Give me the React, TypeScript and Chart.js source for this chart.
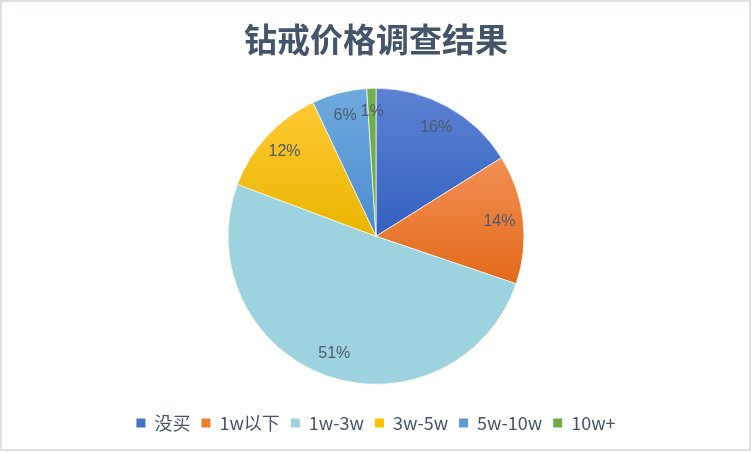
import { useEffect, useRef } from "react";
import { Chart, registerables } from "chart.js";

Chart.register(...registerables);

const title = "钻戒价格调查结果";
const labels = ["没买", "1w以下", "1w-3w", "3w-5w", "5w-10w", "10w+"];
const values = [16.1, 14.1, 50.5, 12.3, 6.0, 1.0];
const pctLabels = ["16%", "14%", "51%", "12%", "6%", "1%"];
// gradient top / bottom colours per slice
const topColors = ["#5d82d3", "#f19053", "#9dd2df", "#ffc933", "#6eaade", "#76b04c"];
const bottomColors = ["#3261bf", "#e3691a", "#9dd2df", "#e9b500", "#4c8ccf", "#6aa843"];
const legendColors = ["#4472c4", "#ed7d31", "#9dd2df", "#ffc000", "#5b9bd5", "#70ad47"];

const TEXT = "#44546a";
const RADIUS = 148;

function sliceBounds(chart: Chart, i: number) {
  const area = chart.chartArea;
  const cy = (area.top + area.bottom) / 2;
  const total = values.reduce((a, b) => a + b, 0);
  let start = 0;
  for (let k = 0; k < i; k++) start += values[k];
  const a0 = (start / total) * Math.PI * 2;
  const a1 = ((start + values[i]) / total) * Math.PI * 2;
  const ys = [cy];
  const steps = 24;
  for (let s = 0; s <= steps; s++) {
    const a = a0 + ((a1 - a0) * s) / steps;
    ys.push(cy - Math.cos(a) * RADIUS);
  }
  return { top: Math.min(...ys), bottom: Math.max(...ys) };
}

const pctPlugin = {
  id: "pctLabels",
  afterDatasetsDraw(chart: Chart) {
    const meta = chart.getDatasetMeta(0);
    const ctx = chart.ctx;
    ctx.save();
    ctx.font = "16px 'Liberation Sans', Arial, sans-serif";
    ctx.fillStyle = "#4f5a6e";
    ctx.textAlign = "center";
    ctx.textBaseline = "middle";
    meta.data.forEach((arc: any, i: number) => {
      const { x, y, startAngle, endAngle } = arc.getProps(["x", "y", "startAngle", "endAngle"], true);
      const mid = (startAngle + endAngle) / 2;
      const r = RADIUS * 0.84;
      ctx.fillText(pctLabels[i], x + Math.cos(mid) * r, y + Math.sin(mid) * r);
    });
    ctx.restore();
  },
};

export default function App() {
  const canvasRef = useRef<HTMLCanvasElement>(null);
  const chartRef = useRef<Chart | null>(null);

  useEffect(() => {
    if (!canvasRef.current) return;
    if (chartRef.current) chartRef.current.destroy();

    chartRef.current = new Chart(canvasRef.current, {
      type: "pie",
      data: {
        labels,
        datasets: [{
          data: values,
          radius: RADIUS,
          borderColor: "rgba(255,255,255,0.7)",
          borderWidth: 1,
          backgroundColor: (c: any) => {
            const chart = c.chart as Chart;
            const i = c.dataIndex;
            if (!chart.chartArea || i == null) return legendColors[i ?? 0];
            const b = sliceBounds(chart, i);
            const g = chart.ctx.createLinearGradient(0, b.top, 0, b.bottom);
            g.addColorStop(0, topColors[i]);
            g.addColorStop(1, bottomColors[i]);
            return g;
          },
        }],
      },
      options: {
        responsive: false,
        animation: false,
        layout: { padding: { top: 0, bottom: 10, left: 0, right: 0 } },
        plugins: {
          title: {
            display: true,
            text: title,
            color: TEXT,
            font: { size: 33, weight: "bold", family: "'Noto Sans CJK SC', sans-serif", lineHeight: 1.2 },
            padding: { top: 20, bottom: 10 },
          },
          legend: {
            position: "bottom",
            labels: {
              boxWidth: 9,
              boxHeight: 9,
              padding: 11,
              color: TEXT,
              font: { size: 18, family: "'Noto Sans CJK SC', 'Liberation Sans', sans-serif" },
              generateLabels: () =>
                labels.map((l, i) => ({
                  text: l,
                  fillStyle: legendColors[i],
                  strokeStyle: legendColors[i],
                  lineWidth: 0,
                  hidden: false,
                  index: i,
                  fontColor: TEXT,
                })),
            },
          },
          tooltip: { enabled: false },
        },
      },
      plugins: [pctPlugin],
    });

    return () => { chartRef.current?.destroy(); };
  }, []);

  return (
    <div style={{ position: "fixed", left: 0, top: 0, width: 752, height: 452, background: "#fff" }}>
      <canvas ref={canvasRef} width={752} height={452} style={{ position: "absolute", left: 0, top: 0 }} />
      <div style={{ position: "absolute", left: 0, top: 0, width: 751, height: 451, boxSizing: "border-box", border: "2px solid #dde1e6", pointerEvents: "none" }} />
    </div>
  );
}
